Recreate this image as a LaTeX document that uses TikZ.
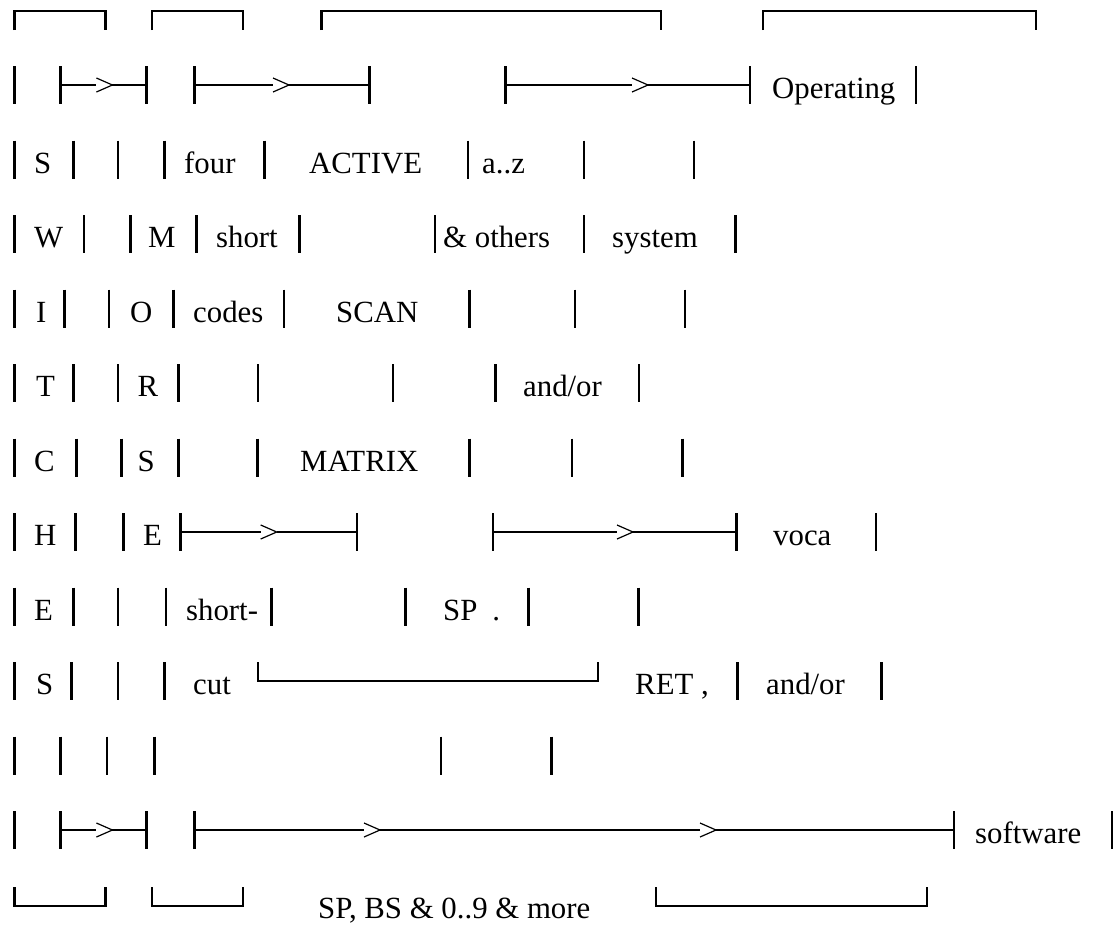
\documentclass[tikz,border=0pt]{standalone}
\usepackage{fontspec}
\setmainfont{Liberation Serif}
\newcommand{\vbr}[2]{\draw[vbar] (#1,#2-19) -- (#1,#2+19);}
\newcommand{\arrw}[4]{%
  \draw[vbar] (#2,#1-19) -- (#2,#1+19);
  \draw[vbar] (#4,#1-19) -- (#4,#1+19);
  \draw[hline] (#2,#1) -- (#3,#1);
  \draw[chev] (#3,#1-7) -- (#3+16,#1) -- (#3,#1+7);
  \draw[hline] (#3+16,#1) -- (#4,#1);}
\newcommand{\topbr}[3]{\draw[hline] (#1,#3+19) -- (#1,#3) -- (#2,#3) -- (#2,#3+19);}
\newcommand{\botbr}[3]{\draw[hline] (#1,#3-19) -- (#1,#3) -- (#2,#3) -- (#2,#3-19);}
\begin{document}
\begin{tikzpicture}[x=1pt,y=-1pt,
  vbar/.style={line width=2.8pt},
  hline/.style={line width=2.5pt,line join=miter},
  chev/.style={line width=1.2pt,line join=miter},
  txt/.style={anchor=base west,inner sep=0pt,font=\fontsize{30.8}{36}\selectfont}]
\useasboundingbox (0,0) rectangle (1116,924);
% row 0: top brackets
\topbr{14.3}{105.4}{11}
\topbr{151.8}{242.9}{11}
\topbr{321.4}{661}{11}
\topbr{763}{1036}{11}
% row 1
\vbr{14.3}{85}
\arrw{85}{60.7}{96.4}{146.4}
\arrw{85}{194.6}{273}{369.6}
\arrw{85}{505.4}{632}{750}
\node[txt] (op) at (772,98.5) {Operating};
\vbr{916}{85}
% row 2
\foreach \x in {14.3,73.2,117.9,164.3,264.3,467.9,584,694} {\vbr{\x}{159.5}}
\node[txt] (s1) at (34,173) {S};
\node[txt] (four) at (184,173) {four};
\node[txt] (active) at (309,173) {ACTIVE};
\node[txt] (az) at (482,173) {a..z};
% row 3
\foreach \x in {14.3,83.9,130.4,196.4,299.3,435,584,735.4} {\vbr{\x}{234}}
\node[txt] (w) at (34,247.5) {W};
\node[txt] (m) at (148,247.5) {M};
\node[txt] (short) at (216,247.5) {short};
\node[txt] (others) at (443,247.5) {\& others};
\node[txt] (system) at (612,247.5) {system};
% row 4
\foreach \x in {14.3,64.3,108.9,173.2,284,469.6,575,685} {\vbr{\x}{308.5}}
\node[txt] (i) at (36,322) {I};
\node[txt] (o) at (130,322) {O};
\node[txt] (codes) at (193,322) {codes};
\node[txt] (scan) at (336,322) {SCAN};
% row 5
\foreach \x in {14.3,73.2,117.9,178.6,257.9,392.9,495.7,639} {\vbr{\x}{383}}
\node[txt] (t) at (36,396.5) {T};
\node[txt] (r) at (137.5,396.5) {R};
\node[txt] (andor1) at (523,396.5) {and/or};
% row 6
\foreach \x in {14.3,76.8,121.4,178.6,257.1,469.6,572,682.5} {\vbr{\x}{457.5}}
\node[txt] (c) at (34,471) {C};
\node[txt] (s2) at (137.5,471) {S};
\node[txt] (matrix) at (300,471) {MATRIX};
% row 7
\foreach \x in {14.3,75.7,123.2,876} {\vbr{\x}{532}}
\arrw{532}{180.4}{260.7}{357}
\arrw{532}{492.9}{617}{736.5}
\node[txt] (h) at (34,545.5) {H};
\node[txt] (e1) at (143,545.5) {E};
\node[txt] (voca) at (773,545.5) {voca};
% row 8
\foreach \x in {14.3,73.2,117.9,166,271.4,405.4,528.6,638.5} {\vbr{\x}{606.5}}
\node[txt] (e2) at (34,620) {E};
\node[txt] (shortm) at (186,620) {short-};
\node[txt] (sp) at (443,620) {SP\hspace{15pt}.};
% row 9
\foreach \x in {14.3,71.4,117.9,164.3,737.6,881.7} {\vbr{\x}{681}}
\botbr{258}{598}{681}
\node[txt] (s3) at (36,694.5) {S};
\node[txt] (cut) at (193,694.5) {cut};
\node[txt] (ret) at (635,694.5) {RET ,};
\node[txt] (andor2) at (766,694.5) {and/or};
% row 10
\foreach \x in {14.3,60.7,107,154.3,441,551.8} {\vbr{\x}{755.5}}
% row 11
\vbr{14.3}{830}
\arrw{830}{60.7}{96.4}{146.4}
\draw[vbar] (194.6,811) -- (194.6,849);
\draw[vbar] (954,811) -- (954,849);
\draw[hline] (194.6,830) -- (364,830);
\draw[chev] (364,823) -- (380,830) -- (364,837);
\draw[hline] (380,830) -- (700,830);
\draw[chev] (700,823) -- (716,830) -- (700,837);
\draw[hline] (716,830) -- (954,830);
\node[txt] (soft) at (975,843.5) {software};
\vbr{1112}{830}
% row 12: bottom brackets
\botbr{14.3}{105.4}{906}
\botbr{151.8}{242.9}{906}
\botbr{656}{927}{906}
\node[txt] (more) at (318,918) {SP, BS \& 0..9 \& more};
\end{tikzpicture}
\end{document}
